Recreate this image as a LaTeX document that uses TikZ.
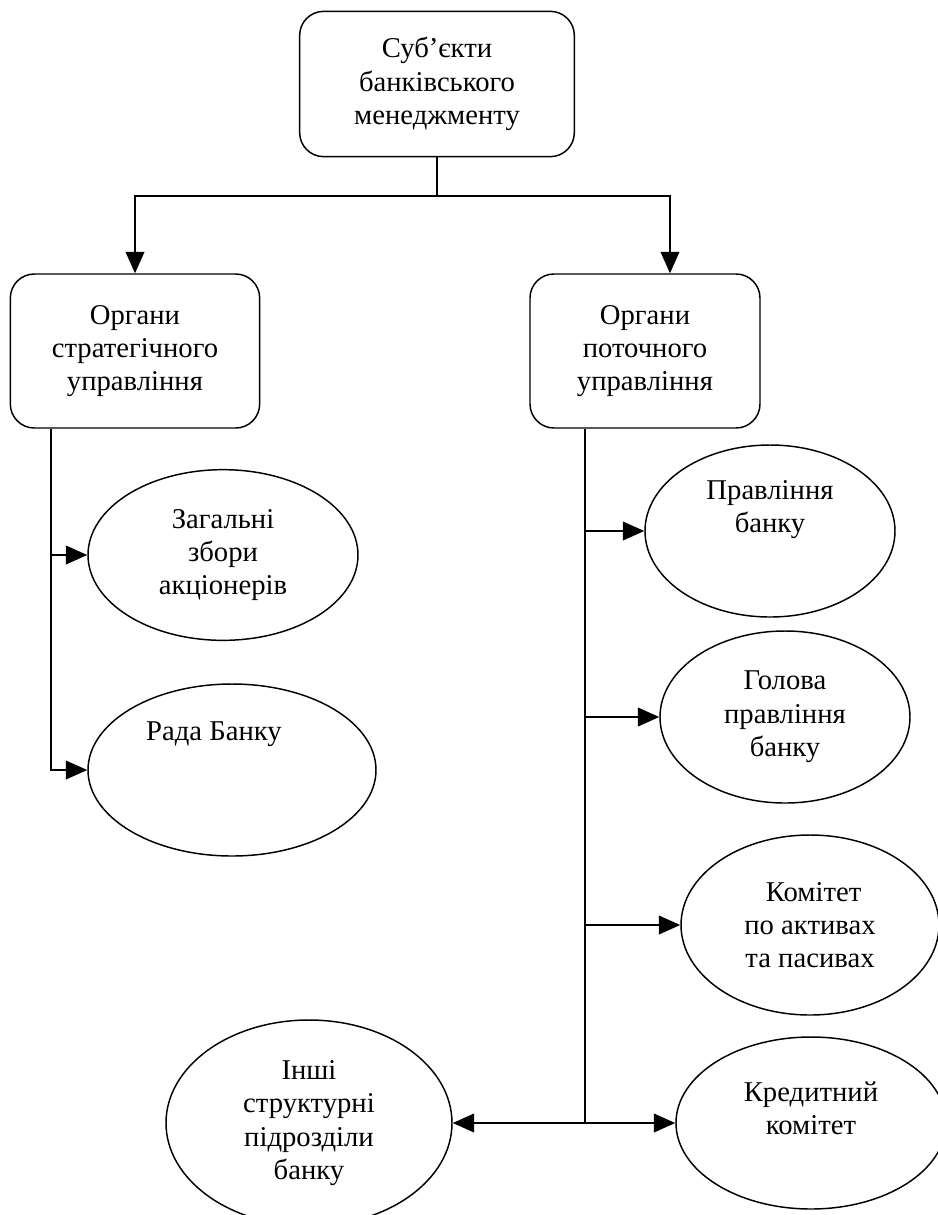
\documentclass[tikz,border=0pt]{standalone}
\usepackage{fontspec}
\setmainfont{Liberation Serif}
\usetikzlibrary{shapes.geometric,arrows.meta}

\begin{document}
\begin{tikzpicture}[x=0.75pt,y=-0.75pt,line width=1.1pt,
   txt/.style={font=\fontsize{21.5}{25}\selectfont,align=center},
   box/.style={draw,rounded corners=18pt,txt},
   oval/.style={ellipse,draw,inner sep=0pt,txt},
   arr/.style={-{Triangle[length=16pt,width=14pt]}}]
   \useasboundingbox (0,0) rectangle (938,1215);
   % boxes
   \node (subj) at (437,84) [box,minimum width=206pt,minimum height=109pt] {Суб’єкти\\банківського\\менеджменту};
   \node (strat) at (135,351) [box,minimum width=187pt,minimum height=115.5pt] {Органи\\стратегічного\\управління};
   \node (cur) at (645,351) [box,minimum width=172.5pt,minimum height=115.5pt] {Органи\\поточного\\управління};
   % ovals
   \node (zag) at (223,555) [oval,minimum width=202.5pt,minimum height=128pt] {Загальні\\збори\\акціонерів};
   \node (rada) at (232,770) [oval,minimum width=216pt,minimum height=129pt,
      label={[txt,xshift=-13.5pt,yshift=27pt]center:Рада Банку}] {};
   \node (prav) at (770,531) [oval,minimum width=187.5pt,minimum height=129pt,
      label={[txt,yshift=16pt]center:Правління\\банку}] {};
   \node (golova) at (785,717) [oval,minimum width=187.5pt,minimum height=129pt] {Голова\\правління\\банку};
   \node (komitet) at (810,925) [oval,minimum width=193.5pt,minimum height=135pt] {~Комітет\\по активах\\та пасивах};
   \node (kred) at (811,1123) [oval,minimum width=202.5pt,minimum height=129pt,
      label={[txt,yshift=11pt]center:Кредитний\\комітет}] {};
   \node (inshi) at (309,1123) [oval,minimum width=214.5pt,minimum height=154.5pt] {Інші\\структурні\\підрозділи\\банку};
   % connectors
   \coordinate (split) at ([yshift=-29pt]subj.south);
   \draw (subj.south) -- (split);
   \draw[arr] (split) -| (strat.north);
   \draw[arr] (split) -| ([xshift=18.75pt]cur.north);
   \coordinate (ltop) at ([xshift=-63pt]strat.south);
   \draw[arr] (ltop) |- (rada.west);
   \draw[arr] (ltop |- zag.west) -- (zag.west);
   \coordinate (rtop) at ([xshift=-45pt]cur.south);
   \draw (rtop) -- (rtop |- kred.west);
   \draw[arr] (rtop |- prav.west) -- (prav.west);
   \draw[arr] (rtop |- golova.west) -- (golova.west);
   \draw[arr] (rtop |- komitet.west) -- (komitet.west);
   \draw[arr] (rtop |- kred.west) -- (kred.west);
   \draw[arr] (rtop |- kred.west) -- (inshi.east);
\end{tikzpicture}
\end{document}
